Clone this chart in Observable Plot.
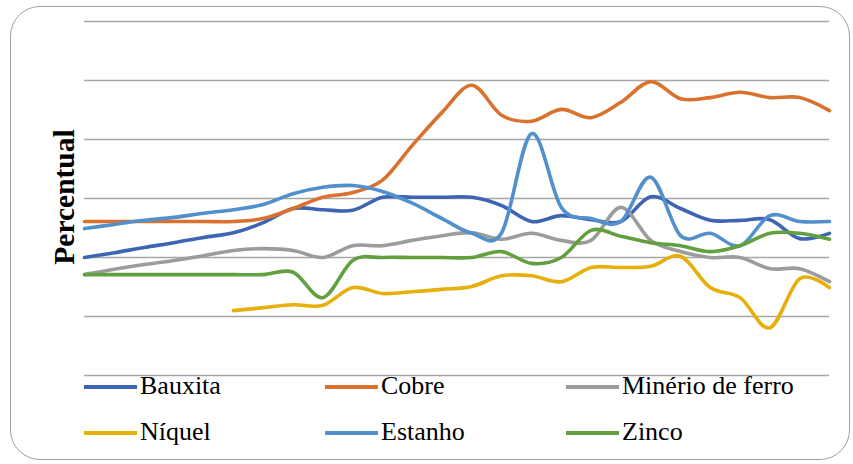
<!DOCTYPE html>
<html>
<head>
<meta charset="utf-8">
<script src="https://cdn.jsdelivr.net/npm/d3@7"></script>
<script src="https://cdn.jsdelivr.net/npm/@observablehq/plot@0.6"></script>
<style>
  html, body { margin: 0; padding: 0; background: #fff; }
  #wrap { position: relative; width: 853px; height: 464px; overflow: hidden; }
  #frame { position: absolute; left: 10px; top: 6px; width: 840px; height: 454px;
           border: 1.5px solid #a0a0a0; border-radius: 30px; box-sizing: border-box; }
  #chart { position: absolute; left: 0; top: 0; }
  .leg { position: absolute; font-family: "Liberation Serif", "Times New Roman", serif;
         font-size: 26px; color: #000; line-height: 1; white-space: nowrap; }
  .sw { position: absolute; height: 4px; width: 53px; }
</style>
</head>
<body>
<div id="wrap">
  <div id="frame"></div>
  <div id="chart"></div>
</div>
<script>
// x positions: 26 evenly spaced observations
const periods = d3.range(1, 27);
const seriesNames = ["Bauxita", "Cobre", "Minério de ferro", "Níquel", "Estanho", "Zinco"];
const seriesColors = ["#3D65B3", "#DA722F", "#9C9C9C", "#E6AF0A", "#5190CC", "#62A03F"];

const bauxita = [20.0, 20.8, 21.7, 22.5, 23.4, 24.2, 25.9, 28.3, 28.1, 28.0, 30.2, 30.2, 30.2, 30.2, 28.8, 26.1, 27.1, 26.4, 26.1, 30.3, 28.3, 26.3, 26.3, 26.4, 23.2, 24.1];
const cobre = [26.1, 26.1, 26.1, 26.1, 26.1, 26.1, 26.6, 28.3, 30.2, 31.0, 33.1, 39.0, 44.6, 49.2, 44.1, 43.1, 45.1, 43.7, 46.3, 49.8, 46.9, 47.1, 48.0, 47.1, 47.1, 44.9];
const minerioFerro = [17.1, 18.0, 18.8, 19.5, 20.3, 21.2, 21.5, 21.2, 20.0, 22.0, 22.0, 22.9, 23.7, 24.2, 23.1, 24.1, 22.9, 22.9, 28.5, 22.9, 21.0, 20.0, 20.0, 18.1, 18.1, 15.9];
const niquel = [null, null, null, null, null, 11.0, 11.5, 12.0, 11.9, 14.9, 13.9, 14.2, 14.6, 15.1, 16.9, 16.9, 15.9, 18.3, 18.3, 18.5, 20.2, 14.9, 13.2, 8.1, 16.4, 14.9];
const estanho = [24.9, 25.6, 26.3, 26.8, 27.5, 28.1, 29.0, 30.8, 31.9, 32.2, 31.2, 29.2, 26.6, 24.1, 24.2, 41.0, 28.5, 26.6, 26.1, 33.6, 23.7, 24.1, 22.0, 27.1, 26.1, 26.1];
const zinco = [17.1, 17.1, 17.1, 17.1, 17.1, 17.1, 17.1, 17.5, 13.2, 19.5, 20.0, 20.0, 20.0, 20.0, 21.0, 19.0, 20.0, 24.6, 23.6, 22.5, 22.0, 21.0, 22.0, 24.1, 24.1, 23.1];

const gridTicks = [0, 10, 20, 30, 40, 50, 60];

const allSeries = [bauxita, cobre, minerioFerro, niquel, estanho, zinco];
const rows = [];
allSeries.forEach((vals, si) => {
  vals.forEach((v, i) => rows.push({period: periods[i], value: v, series: seriesNames[si]}));
});

const plot = Plot.plot({
  width: 853,
  height: 464,
  marginLeft: 84,
  marginRight: 24,
  marginTop: 21,
  marginBottom: 89,
  x: {domain: [1, 26], axis: null},
  y: {domain: [0, 60], axis: null},
  color: {domain: seriesNames, range: seriesColors},
  marks: [
    Plot.ruleY(gridTicks, {stroke: "#a6a6a6", strokeWidth: 1.5}),
    Plot.line(rows, {
      x: "period", y: "value", z: "series", stroke: "series",
      strokeWidth: 3.6, curve: "cardinal", tension: 0
    })
  ],
  style: {background: "transparent", overflow: "visible"}
});
document.getElementById("chart").appendChild(plot);

// y-axis title
d3.select(plot).append("text")
  .attr("transform", "translate(74,197) rotate(-90)")
  .attr("text-anchor", "middle")
  .attr("font-family", "'Liberation Serif', 'Times New Roman', serif")
  .attr("font-weight", "bold")
  .attr("font-size", 29.5)
  .attr("fill", "#000")
  .text("Percentual");

// legend (HTML, inside the frame)
const wrap = document.getElementById("wrap");
const colX = [84, 325, 566];
const rowY = [387, 433];
seriesNames.forEach((name, i) => {
  const cx = colX[i % 3], cy = rowY[Math.floor(i / 3)];
  const sw = document.createElement("div");
  sw.className = "sw";
  sw.style.left = cx + "px";
  sw.style.top = (cy - 2) + "px";
  sw.style.background = seriesColors[i];
  wrap.appendChild(sw);
  const t = document.createElement("div");
  t.className = "leg";
  t.style.left = (cx + 56) + "px";
  t.style.top = (cy - 14) + "px";
  t.textContent = name;
  wrap.appendChild(t);
});
</script>
</body>
</html>
